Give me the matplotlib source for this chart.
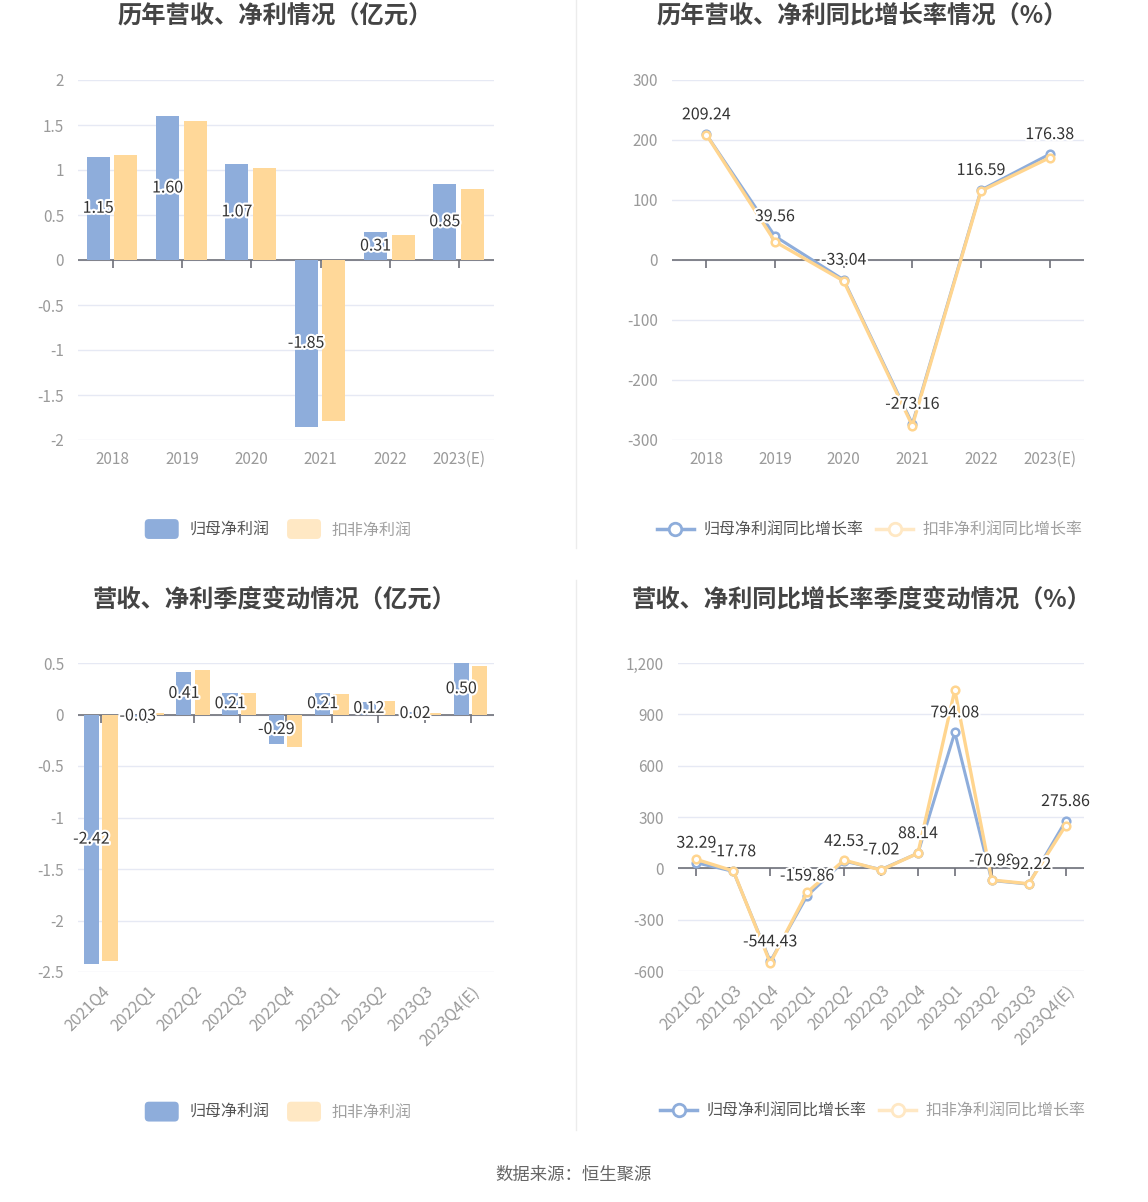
import matplotlib
matplotlib.use('Agg')
import matplotlib.pyplot as plt
import matplotlib.patheffects as pe
from matplotlib.lines import Line2D
from matplotlib.patches import FancyBboxPatch
from matplotlib.legend_handler import HandlerPatch
import numpy as np

plt.rcParams['font.family'] = ['Noto Sans CJK SC', 'DejaVu Sans']

# ---- data ----
years = ['2018', '2019', '2020', '2021', '2022', '2023(E)']
profit_parent = [1.15, 1.60, 1.07, -1.85, 0.31, 0.85]
profit_deducted = [1.17, 1.55, 1.02, -1.79, 0.28, 0.79]

growth_parent = [209.24, 39.56, -33.04, -273.16, 116.59, 176.38]
growth_deducted = [209.0, 30.5, -35.0, -276.0, 115.0, 170.5]

quarters_bar = ['2021Q4', '2022Q1', '2022Q2', '2022Q3', '2022Q4',
                '2023Q1', '2023Q2', '2023Q3', '2023Q4(E)']
q_profit_parent = [-2.42, -0.03, 0.41, 0.21, -0.29, 0.21, 0.12, 0.02, 0.50]
q_profit_deducted = [-2.39, 0.01, 0.43, 0.21, -0.32, 0.20, 0.13, 0.01, 0.47]

quarters_line = ['2021Q2', '2021Q3', '2021Q4', '2022Q1', '2022Q2', '2022Q3',
                 '2022Q4', '2023Q1', '2023Q2', '2023Q3', '2023Q4(E)']
q_growth_parent = [32.29, -17.78, -544.43, -159.86, 42.53, -7.02, 88.14,
                   794.08, -70.98, -92.22, 275.86]
q_growth_deducted = [52, -15, -553, -140, 48, -10, 88, 1042, -68, -90, 249]

BLUE = '#8eaddb'
ORANGE = '#ffd899'
ORANGE_LINE = '#ffd58f'
GRID = '#e6e9f4'
AXIS = '#6e7079'
TICK_TXT = '#9a9a9a'
LABEL_TXT = '#333333'

W, H = 1148, 1202
fig = plt.figure(figsize=(W / 100, H / 100), dpi=100)


def box(l, t, r, b):
    return [l / W, 1 - b / H, (r - l) / W, (b - t) / H]


outline = [pe.withStroke(linewidth=3, foreground='white')]


def fmt_num(v):
    if abs(v - round(v)) < 1e-9:
        return '{:,}'.format(int(round(v)))
    return ('%g' % v)


def style_axes(ax, n, yticks):
    ax.set_xlim(-0.5, n - 0.5)
    ax.set_ylim(yticks[0], yticks[-1])
    ax.set_yticks(yticks)
    ax.set_yticklabels([fmt_num(t) for t in yticks])
    for s in ax.spines.values():
        s.set_visible(False)
    ax.grid(axis='y', color=GRID, linewidth=1)
    ax.set_axisbelow(True)
    ax.tick_params(axis='y', length=0, pad=10, labelsize=11, labelcolor=TICK_TXT)
    ax.tick_params(axis='x', length=0, pad=8, labelsize=11, labelcolor=TICK_TXT)
    ax.axhline(0, color=AXIS, linewidth=1.2, zorder=2)
    ax.plot(range(n), [0] * n, linestyle='none', marker=3, markersize=6,
            color=AXIS, markeredgewidth=1.2, zorder=2, clip_on=False)


class RoundBoxHandler(HandlerPatch):
    def create_artists(self, legend, orig_handle, xdescent, ydescent,
                       width, height, fontsize, trans):
        p = FancyBboxPatch((-xdescent + 1, -ydescent - 2), width - 2, height + 4,
                           boxstyle='round,pad=0,rounding_size=3',
                           facecolor=orig_handle.get_facecolor(),
                           edgecolor='none', transform=trans)
        return [p]


def bar_legend(ax, y):
    h1 = plt.Rectangle((0, 0), 1, 1, facecolor=BLUE)
    h2 = plt.Rectangle((0, 0), 1, 1, facecolor='#ffe8c4')
    leg = ax.legend([h1, h2], ['归母净利润', '扣非净利润'], loc='center',
                    bbox_to_anchor=(0.48, y), ncol=2, frameon=False,
                    fontsize=11.5, handlelength=2.3, handleheight=1.0,
                    columnspacing=1.0, handletextpad=0.6,
                    handler_map={plt.Rectangle: RoundBoxHandler()})
    leg.get_texts()[0].set_color('#555555')
    leg.get_texts()[1].set_color('#a0a0a0')


def line_legend(ax, y):
    h1 = Line2D([], [], color=BLUE, linewidth=2.5, marker='o', markersize=9,
                markerfacecolor='white', markeredgewidth=2)
    h2 = Line2D([], [], color='#ffe8c4', linewidth=2.5, marker='o', markersize=9,
                markerfacecolor='white', markeredgewidth=2)
    leg = ax.legend([h1, h2], ['归母净利润同比增长率', '扣非净利润同比增长率'],
                    loc='center', bbox_to_anchor=(0.48, y), ncol=2,
                    frameon=False, fontsize=11.5, handlelength=2.3,
                    columnspacing=0.8, handletextpad=0.6)
    leg.get_texts()[0].set_color('#555555')
    leg.get_texts()[1].set_color('#a0a0a0')


def bar_panel(ax, cats, s1, s2, yticks, rotate=False):
    n = len(cats)
    x = np.arange(n)
    style_axes(ax, n, yticks)
    b1 = ax.bar(x - 0.21, s1, width=0.33, color=BLUE, zorder=3)
    ax.bar(x + 0.19, s2, width=0.33, color=ORANGE, zorder=3)
    labels = ax.bar_label(b1, labels=['%.2f' % v for v in s1],
                          label_type='center', fontsize=11.5, color=LABEL_TXT)
    for t in labels:
        t.set_path_effects(outline)
        t.set_zorder(5)
    ax.set_xticks(x)
    if rotate:
        ax.set_xticklabels(cats, rotation=45, ha='right', rotation_mode='anchor',
                           fontsize=11.5)
    else:
        ax.set_xticklabels(cats)


def line_panel(ax, cats, s1, s2, yticks, rotate=False):
    n = len(cats)
    x = np.arange(n)
    style_axes(ax, n, yticks)
    ax.plot(x, s1, color=BLUE, linewidth=2.2, marker='o', markersize=5.5,
            markerfacecolor='white', markeredgewidth=1.8, zorder=3, clip_on=False)
    ax.plot(x, s2, color=ORANGE_LINE, linewidth=2.4, marker='o', markersize=5.5,
            markerfacecolor='white', markeredgewidth=1.8, zorder=4, clip_on=False)
    for xi, v in zip(x, s1):
        t = ax.annotate('%.2f' % v, (xi, v), xytext=(0, 8),
                        textcoords='offset points', ha='center', va='bottom',
                        fontsize=11.5, color=LABEL_TXT, zorder=6)
        t.set_path_effects(outline)
    ax.set_xticks(x)
    if rotate:
        ax.set_xticklabels(cats, rotation=45, ha='right', rotation_mode='anchor',
                           fontsize=11.5)
    else:
        ax.set_xticklabels(cats)


title_kw = dict(fontsize=17.5, fontweight='bold', color='#444444',
                ha='center', va='center')

# top-left
ax1 = fig.add_axes(box(78, 80, 494, 440))
bar_panel(ax1, years, profit_parent, profit_deducted,
          [-2, -1.5, -1, -0.5, 0, 0.5, 1, 1.5, 2])
bar_legend(ax1, -0.25)
fig.text(275 / W, 1 - 17 / H, '历年营收、净利情况（亿元）', **title_kw)

# top-right
ax2 = fig.add_axes(box(672, 80, 1084, 440))
line_panel(ax2, years, growth_parent, growth_deducted,
           [-300, -200, -100, 0, 100, 200, 300])
line_legend(ax2, -0.25)
fig.text(862 / W, 1 - 17 / H, '历年营收、净利同比增长率情况（%）', **title_kw)

# bottom-left
ax3 = fig.add_axes(box(78, 663, 494, 972))
bar_panel(ax3, quarters_bar, q_profit_parent, q_profit_deducted,
          [-2.5, -2, -1.5, -1, -0.5, 0, 0.5], rotate=True)
bar_legend(ax3, -0.455)
fig.text(275 / W, 1 - 600 / H, '营收、净利季度变动情况（亿元）', **title_kw)

# bottom-right
ax4 = fig.add_axes(box(678, 663, 1084, 971))
line_panel(ax4, quarters_line, q_growth_parent, q_growth_deducted,
           [-600, -300, 0, 300, 600, 900, 1200], rotate=True)
line_legend(ax4, -0.455)
fig.text(862 / W, 1 - 600 / H, '营收、净利同比增长率季度变动情况（%）', **title_kw)

# dividers and source
fig.add_artist(Line2D([576 / W, 576 / W], [1 - 0 / H, 1 - 548 / H],
                      color='#ececec', linewidth=1))
fig.add_artist(Line2D([576 / W, 576 / W], [1 - 580 / H, 1 - 1130 / H],
                      color='#ececec', linewidth=1))
fig.text(574 / W, 1 - 1175 / H, '数据来源：恒生聚源', fontsize=12.5,
         color='#666666', ha='center', va='center')

fig.savefig('out.png', dpi=100, facecolor='white')
